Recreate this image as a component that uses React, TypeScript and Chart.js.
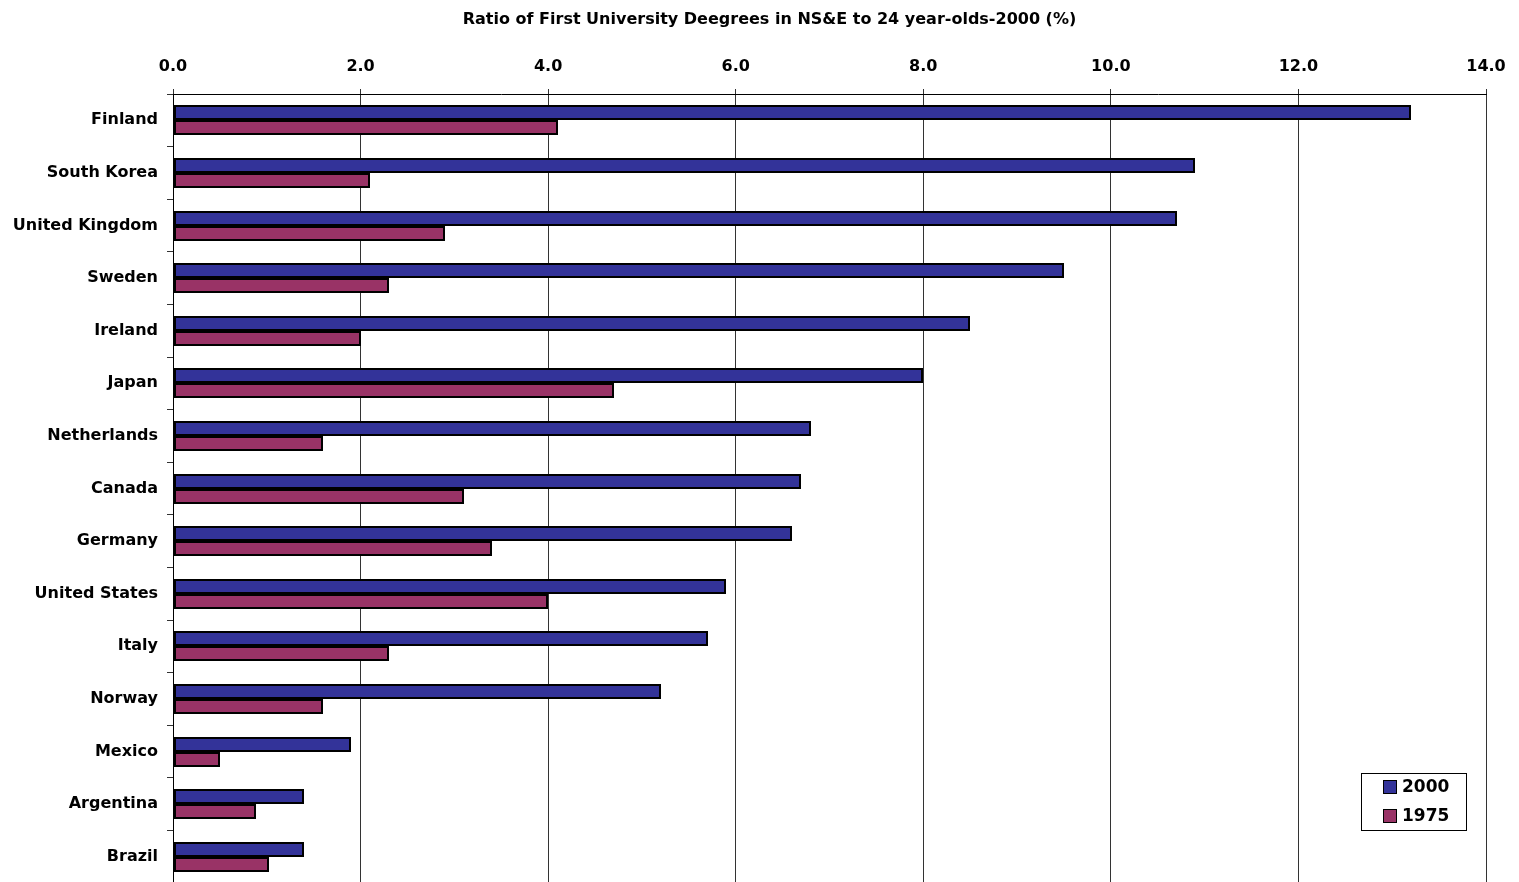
import React, { useEffect, useRef } from "react";
import { Chart, registerables } from "chart.js";

Chart.register(...registerables);

const TITLE = "Ratio of First University Deegrees in NS&E to 24 year-olds-2000 (%)";
const countries = [
  "Finland",
  "South Korea",
  "United Kingdom",
  "Sweden",
  "Ireland",
  "Japan",
  "Netherlands",
  "Canada",
  "Germany",
  "United States",
  "Italy",
  "Norway",
  "Mexico",
  "Argentina",
  "Brazil",
];
const values2000 = [13.2, 10.9, 10.7, 9.5, 8.5, 8.0, 6.8, 6.7, 6.6, 5.9, 5.7, 5.2, 1.9, 1.4, 1.4];
const values1975 = [4.1, 2.1, 2.9, 2.3, 2.0, 4.7, 1.6, 3.1, 3.4, 4.0, 2.3, 1.6, 0.5, 0.88, 1.02];
const seriesLabels = ["2000", "1975"];
const seriesColors = ["#333399", "#993366"];
const xTicks = { min: 0, max: 14, step: 2 };

const FONT = "'DejaVu Sans', Verdana, sans-serif";

const titlePlugin = {
  id: "customTitle",
  afterDraw(chart: any) {
    const ctx = chart.ctx;
    ctx.save();
    ctx.font = `bold 16px ${FONT}`;
    ctx.fillStyle = "#000";
    ctx.textAlign = "center";
    ctx.textBaseline = "middle";
    ctx.fillText(TITLE, 769.5, 20);
    ctx.restore();
  },
};

// snap bar rectangles to whole pixels so borders render crisply
const snapPlugin = {
  id: "snapBars",
  afterDatasetsUpdate(chart: any) {
    chart.data.datasets.forEach((_: any, i: number) => {
      const meta = chart.getDatasetMeta(i);
      meta.data.forEach((el: any) => {
        const h = Math.round(el.height);
        const top = Math.round(el.y - el.height / 2);
        el.height = h;
        el.y = top + h / 2;
        el.x = Math.round(el.x);
        el.base = Math.round(el.base);
      });
    });
  },
};

const legendPlugin = {
  id: "boxLegend",
  afterDraw(chart: any) {
    const ctx = chart.ctx;
    const area = chart.chartArea;
    const w = 105;
    const h = 57;
    const x = area.right - 20 - w;
    const y = area.bottom - 53 - h;
    ctx.save();
    ctx.fillStyle = "#fff";
    ctx.fillRect(x, y, w, h);
    ctx.strokeStyle = "#000";
    ctx.lineWidth = 1;
    ctx.strokeRect(Math.round(x) + 0.5, Math.round(y) + 0.5, w, h);
    ctx.font = `bold 17px ${FONT}`;
    ctx.textBaseline = "middle";
    ctx.textAlign = "left";
    chart.data.datasets.forEach((ds: any, i: number) => {
      const cy = Math.round(y + 14 + i * 29);
      ctx.fillStyle = ds.backgroundColor;
      ctx.fillRect(Math.round(x) + 22, cy - 7, 14, 14);
      ctx.strokeStyle = "#000";
      ctx.strokeRect(Math.round(x) + 22.5, cy - 6.5, 13, 13);
      ctx.fillStyle = "#000";
      ctx.fillText(ds.label, x + 41, cy + 1);
    });
    ctx.restore();
  },
};

export default function App() {
  const ref = useRef<HTMLCanvasElement | null>(null);
  useEffect(() => {
    if (!ref.current) return;
    const chart = new Chart(ref.current, {
      type: "bar",
      data: {
        labels: countries,
        datasets: [
          {
            label: seriesLabels[0],
            data: values2000,
            backgroundColor: seriesColors[0],
            borderColor: "#000",
            borderWidth: 2,
            borderSkipped: false,
          },
          {
            label: seriesLabels[1],
            data: values1975,
            backgroundColor: seriesColors[1],
            borderColor: "#000",
            borderWidth: 2,
            borderSkipped: false,
          },
        ],
      },
      options: {
        indexAxis: "y",
        responsive: false,
        animation: false,
        layout: { padding: { top: 0, left: 0, right: 33, bottom: 7 } },
        datasets: { bar: { categoryPercentage: 0.57, barPercentage: 1.0 } },
        plugins: {
          legend: { display: false },
          title: { display: false },
          tooltip: { enabled: false },
        },
        scales: {
          x: {
            position: "top",
            min: xTicks.min,
            max: xTicks.max,
            ticks: {
              stepSize: xTicks.step,
              color: "#000",
              padding: 13,
              font: { family: FONT, size: 16, weight: "bold" },
              callback: (v: any) => Number(v).toFixed(1),
            },
            grid: { color: "#333", lineWidth: 1, tickLength: 5 },
            border: { display: true, color: "#000", width: 1 },
            afterFit: (s: any) => {
              s.height = 94;
            },
          },
          y: {
            ticks: {
              color: "#000",
              padding: 9,
              font: { family: FONT, size: 16, weight: "bold" },
            },
            grid: { drawOnChartArea: false, drawTicks: true, tickLength: 6, color: "#333", offset: true },
            border: { display: true, color: "#000", width: 1 },
            afterFit: (s: any) => {
              s.width = 173;
              s.paddingTop = 0;
              s.paddingBottom = 0;
            },
          },
        },
      },
      plugins: [snapPlugin, titlePlugin, legendPlugin],
    } as any);
    return () => chart.destroy();
  }, []);
  return (
    <div style={{ position: "absolute", left: 0, top: 0, width: 1519, height: 882, overflow: "hidden", background: "#fff" }}>
      <canvas ref={ref} width={1519} height={890} style={{ display: "block" }} />
    </div>
  );
}
